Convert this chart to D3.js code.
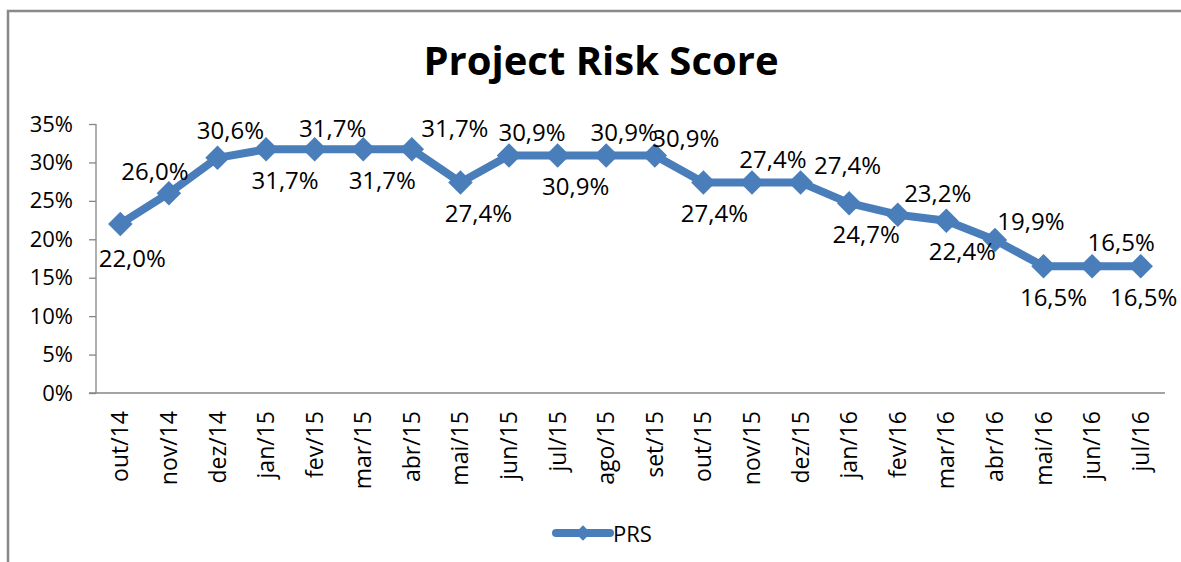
<!DOCTYPE html>
<html>
<head>
  <meta charset="utf-8">
  <script src="https://d3js.org/d3.v7.min.js"></script>
  <style>
    body { margin: 0; background: #fff; }
    text { font-family: "Open Sans", sans-serif; fill: #000; }
  </style>
</head>
<body>
<script>
  // chart data
  var months = ["out/14", "nov/14", "dez/14", "jan/15", "fev/15", "mar/15", "abr/15", "mai/15",
                "jun/15", "jul/15", "ago/15", "set/15", "out/15", "nov/15", "dez/15", "jan/16",
                "fev/16", "mar/16", "abr/16", "mai/16", "jun/16", "jul/16"];
  var prs = [22.0, 26.0, 30.6, 31.7, 31.7, 31.7, 31.7, 27.4, 30.9, 30.9, 30.9, 30.9,
             27.4, 27.4, 27.4, 24.7, 23.2, 22.4, 19.9, 16.5, 16.5, 16.5];
  var yTicks = [0, 5, 10, 15, 20, 25, 30, 35];
  var seriesName = "PRS";
  var title = "Project Risk Score";

  // where each data label sits relative to its point (Excel placement)
  var labelDx = [12, -14, 13, 19, 18, 19, 43, 18, 23, 18, 18, 31, 11, 21, 47, 17, 40, 16, 36, 10, 29, 3];
  var labelDy = [34, -23, -28, 30, -22, 30, -22, 30, -24, 30, -24, -18, 30, -24, -18, 30, -22, 30, -20, 30, -25, 30];

  var W = 1181, H = 562;
  var blue = "#4a7ebb";

  var svg = d3.select("body").append("svg")
      .attr("width", W)
      .attr("height", H);

  // chart border (only top and left visible in the crop)
  svg.append("path")
      .attr("d", "M8,562 V11 H1181")
      .attr("fill", "none")
      .attr("stroke", "#898989")
      .attr("stroke-width", 2.5);

  svg.append("text")
      .attr("x", 601)
      .attr("y", 75)
      .attr("text-anchor", "middle")
      .style("font-size", "40px")
      .style("font-weight", "bold")
      .text(title);

  var x = d3.scaleBand()
      .domain(months)
      .range([96, 1165]);

  var y = d3.scaleLinear()
      .domain([0, 35])
      .range([393, 124]);

  // y axis
  var yAxis = svg.append("g")
      .attr("transform", "translate(96,0)")
      .call(d3.axisLeft(y).tickValues(yTicks).tickSize(7).tickPadding(16)
            .tickFormat(function(d) { return d + "%"; }));
  yAxis.selectAll("path, line").attr("stroke", "#868686").attr("stroke-width", 1.3);
  yAxis.selectAll("text").style("font-size", "22px").attr("fill", "#000")
      .style("font-family", "'Open Sans', sans-serif");
  yAxis.select(".domain").attr("d", "M0,124 V393");

  // x axis
  var xAxis = svg.append("g")
      .attr("transform", "translate(0,393)")
      .call(d3.axisBottom(x).tickSize(0).tickPadding(0));
  xAxis.select(".domain").attr("stroke", "#868686").attr("stroke-width", 1.3)
      .attr("d", "M89,0 H1165");
  xAxis.selectAll("text")
      .style("font-size", "23px")
      .style("font-family", "'Open Sans', sans-serif")
      .attr("fill", "#000")
      .attr("transform", "rotate(-90)")
      .attr("text-anchor", "end")
      .attr("dy", "0.35em")
      .attr("x", -18)
      .attr("y", 0);

  var cx = function(d, i) { return x(months[i]) + x.bandwidth() / 2; };

  var line = d3.line()
      .x(function(d, i) { return cx(d, i); })
      .y(function(d) { return y(d); });

  svg.append("path")
      .datum(prs)
      .attr("d", line)
      .attr("fill", "none")
      .attr("stroke", blue)
      .attr("stroke-width", 8)
      .attr("stroke-linejoin", "round");

  var diamond = d3.symbol().type(d3.symbolSquare).size(300);

  svg.selectAll(".pt")
      .data(prs)
      .join("path")
      .attr("class", "pt")
      .attr("d", diamond)
      .attr("fill", blue)
      .attr("transform", function(d, i) {
        return "translate(" + cx(d, i) + "," + y(d) + ") rotate(45)";
      });

  var fmt = function(v) { return v.toFixed(1).replace(".", ",") + "%"; };

  svg.selectAll(".lbl")
      .data(prs)
      .join("text")
      .attr("class", "lbl")
      .attr("x", function(d, i) { return cx(d, i) + labelDx[i]; })
      .attr("y", function(d, i) { return y(d) + labelDy[i]; })
      .attr("text-anchor", "middle")
      .attr("dominant-baseline", "central")
      .style("font-size", "24px")
      .text(fmt);

  // legend
  var lg = svg.append("g").attr("transform", "translate(556,533)");
  lg.append("line")
      .attr("x1", 0).attr("x2", 54)
      .attr("stroke", blue).attr("stroke-width", 8).attr("stroke-linecap", "round");
  lg.append("path")
      .attr("d", d3.symbol().type(d3.symbolSquare).size(120))
      .attr("fill", blue)
      .attr("transform", "translate(27,0) rotate(45)");
  lg.append("text")
      .attr("x", 57)
      .attr("dominant-baseline", "central")
      .style("font-size", "22px")
      .text(seriesName);
</script>
</body>
</html>
